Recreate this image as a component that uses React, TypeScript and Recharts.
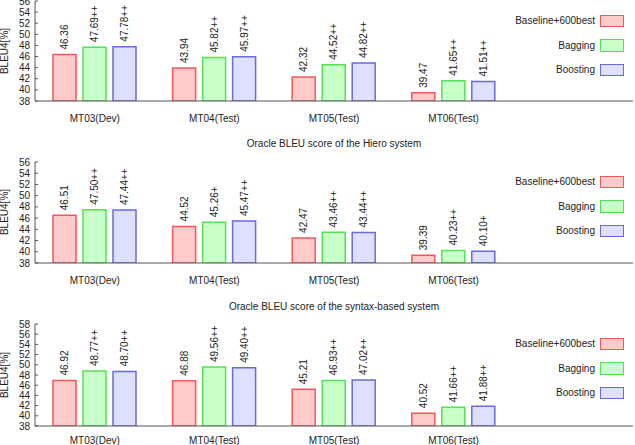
import React from 'react';
import { BarChart, Bar, XAxis, YAxis, LabelList, Legend } from 'recharts';

// Test sets on the x axis; a trailing empty slot leaves room for the legend.
const categories = ['MT03(Dev)', 'MT04(Test)', 'MT05(Test)', 'MT06(Test)'];

// Top panel
const p1Baseline = [46.36, 43.94, 42.32, 39.47];
const p1Bagging = [47.69, 45.82, 44.52, 41.65];
const p1BaggingSig = ['++', '++', '++', '++'];
const p1Boosting = [47.78, 45.97, 44.82, 41.51];
const p1BoostingSig = ['++', '++', '++', '++'];

// Hiero system
const p2Baseline = [46.51, 44.52, 42.47, 39.39];
const p2Bagging = [47.5, 45.26, 43.46, 40.23];
const p2BaggingSig = ['++', '+', '++', '++'];
const p2Boosting = [47.44, 45.47, 43.44, 40.1];
const p2BoostingSig = ['++', '++', '++', '+'];

// Syntax-based system
const p3Baseline = [46.92, 46.88, 45.21, 40.52];
const p3Bagging = [48.77, 49.56, 46.93, 41.66];
const p3BaggingSig = ['++', '++', '++', '++'];
const p3Boosting = [48.7, 49.4, 47.02, 41.88];
const p3BoostingSig = ['++', '++', '++', '++'];

const ticks56 = [38, 40, 42, 44, 46, 48, 50, 52, 54, 56];
const ticks58 = [38, 40, 42, 44, 46, 48, 50, 52, 54, 56, 58];

const seriesNames = ['Baseline+600best', 'Bagging', 'Boosting'];
const FILLS = ['#ffcaca', '#c9ffc9', '#dfdfff'];
const STROKES = ['#ee5a5a', '#55e055', '#6a6ae0'];

const FONT = '"Liberation Sans", Arial, sans-serif';
const TEXT = '#222';
const AXIS = '#555';

function buildRows(
  base: number[],
  bag: number[],
  bagSig: string[],
  boost: number[],
  boostSig: string[]
) {
  const rows = categories.map((name, i) => ({
    name,
    base: base[i],
    bag: bag[i],
    boost: boost[i],
    baseLbl: base[i].toFixed(2),
    bagLbl: bag[i].toFixed(2) + bagSig[i],
    boostLbl: boost[i].toFixed(2) + boostSig[i],
  }));
  rows.push({ name: '', base: null, bag: null, boost: null, baseLbl: '', bagLbl: '', boostLbl: '' } as any);
  return rows;
}

const ValueLabel = (props: any) => {
  const { x, y, width, value } = props;
  if (value === '' || value == null) return null;
  const cx = x + width / 2;
  const ty = y - 5;
  return (
    <text
      x={cx}
      y={ty}
      transform={`rotate(-90 ${cx} ${ty})`}
      textAnchor="start"
      dominantBaseline="central"
      fontSize={10}
      fontFamily={FONT}
      fill={TEXT}
    >
      {value}
    </text>
  );
};

const TopTick = (props: any) => {
  const { x, y, payload } = props;
  if (!payload || payload.value === '') return <g />;
  return <line x1={x} y1={y} x2={x} y2={y + 4} stroke={AXIS} strokeWidth={1} />;
};

const NoTick = () => <g />;

const LegendBox = () => (
  <div style={{ fontFamily: FONT, fontSize: 10, color: TEXT }}>
    {seriesNames.map((n, i) => (
      <div
        key={n}
        style={{ height: 24.5, display: 'flex', alignItems: 'center', justifyContent: 'flex-end' }}
      >
        <span>{n}</span>
        <span
          style={{
            display: 'inline-block',
            boxSizing: 'border-box',
            width: 24,
            height: 12.5,
            marginLeft: 5,
            background: FILLS[i],
            border: `1.5px solid ${STROKES[i]}`,
          }}
        />
      </div>
    ))}
  </div>
);

type PanelProps = {
  top: number;
  marginTop: number;
  plotHeight: number;
  max: number;
  ticks: number[];
  rows: any[];
  labelGap: number;
};

const Panel = ({ top, marginTop, plotHeight, max, ticks, rows, labelGap }: PanelProps) => {
  const height = marginTop + plotHeight + 30;
  return (
    <div style={{ position: 'absolute', left: 0, top }}>
      <BarChart
        width={635}
        height={height}
        data={rows}
        margin={{ top: marginTop, right: 2, bottom: 0, left: 0 }}
        barSize={23}
        barGap={7}
      >
        <XAxis
          xAxisId="bottom"
          dataKey="name"
          interval={0}
          tickLine={false}
          tickMargin={labelGap}
          height={30}
          axisLine={{ stroke: AXIS }}
          tick={{ fontSize: 10, fontFamily: FONT, fill: TEXT }}
        />
        <XAxis
          xAxisId="top"
          dataKey="name"
          orientation="top"
          interval={0}
          height={0}
          tickLine={false}
          tickMargin={0}
          axisLine={{ stroke: AXIS }}
          tick={<TopTick />}
        />
        <YAxis
          yAxisId="left"
          type="number"
          domain={[38, max]}
          ticks={ticks}
          interval={0}
          width={35}
          tickSize={-3}
          tickMargin={8}
          axisLine={{ stroke: AXIS }}
          tickLine={{ stroke: AXIS }}
          tick={{ fontSize: 10, fontFamily: FONT, fill: TEXT }}
          allowDataOverflow
        />
        <YAxis
          yAxisId="right"
          orientation="right"
          type="number"
          domain={[38, max]}
          ticks={ticks}
          interval={0}
          width={0}
          tickSize={-3}
          axisLine={{ stroke: AXIS }}
          tickLine={{ stroke: AXIS }}
          tick={<NoTick />}
          allowDataOverflow
        />
        <Legend
          content={<LegendBox />}
          layout="horizontal"
          align="center"
          verticalAlign="middle"
          wrapperStyle={{ position: 'absolute', left: 480, top: marginTop + 7.5, width: 144 }}
        />
        <Bar xAxisId="bottom" yAxisId="left" dataKey="base" fill={FILLS[0]} stroke={STROKES[0]} strokeWidth={1.5} isAnimationActive={false}>
          <LabelList dataKey="baseLbl" content={<ValueLabel />} />
        </Bar>
        <Bar xAxisId="bottom" yAxisId="left" dataKey="bag" fill={FILLS[1]} stroke={STROKES[1]} strokeWidth={1.5} isAnimationActive={false}>
          <LabelList dataKey="bagLbl" content={<ValueLabel />} />
        </Bar>
        <Bar xAxisId="bottom" yAxisId="left" dataKey="boost" fill={FILLS[2]} stroke={STROKES[2]} strokeWidth={1.5} isAnimationActive={false}>
          <LabelList dataKey="boostLbl" content={<ValueLabel />} />
        </Bar>
      </BarChart>
    </div>
  );
};

const AxisTitle = ({ cy }: { cy: number }) => (
  <div
    style={{
      position: 'absolute',
      left: 5,
      top: cy,
      transform: 'translate(-50%, -50%) rotate(-90deg)',
      whiteSpace: 'nowrap',
      fontFamily: FONT,
      fontSize: 10,
      color: TEXT,
      lineHeight: '12px',
    }}
  >
    BLEU4[%]
  </div>
);

const PanelTitle = ({ cy, text }: { cy: number; text: string }) => (
  <div
    style={{
      position: 'absolute',
      left: 35,
      width: 598,
      top: cy - 6,
      lineHeight: '12px',
      textAlign: 'center',
      fontFamily: FONT,
      fontSize: 10,
      color: TEXT,
    }}
  >
    {text}
  </div>
);

export default function App() {
  const rows1 = buildRows(p1Baseline, p1Bagging, p1BaggingSig, p1Boosting, p1BoostingSig);
  const rows2 = buildRows(p2Baseline, p2Bagging, p2BaggingSig, p2Boosting, p2BoostingSig);
  const rows3 = buildRows(p3Baseline, p3Bagging, p3BaggingSig, p3Boosting, p3BoostingSig);
  return (
    <div
      style={{
        position: 'absolute',
        left: 0,
        top: 0,
        width: 635,
        height: 445,
        overflow: 'hidden',
        background: '#fff',
      }}
    >
      <Panel top={0} marginTop={1} plotHeight={100} max={56} ticks={ticks56} rows={rows1} labelGap={8} />
      <PanelTitle cy={144} text="Oracle BLEU score of the Hiero system" />
      <Panel top={152} marginTop={10} plotHeight={101} max={56} ticks={ticks56} rows={rows2} labelGap={8} />
      <PanelTitle cy={307} text="Oracle BLEU score of the syntax-based system" />
      <Panel top={314} marginTop={10} plotHeight={102} max={58} ticks={ticks58} rows={rows3} labelGap={5} />
      <AxisTitle cy={51} />
      <AxisTitle cy={212} />
      <AxisTitle cy={375} />
    </div>
  );
}
